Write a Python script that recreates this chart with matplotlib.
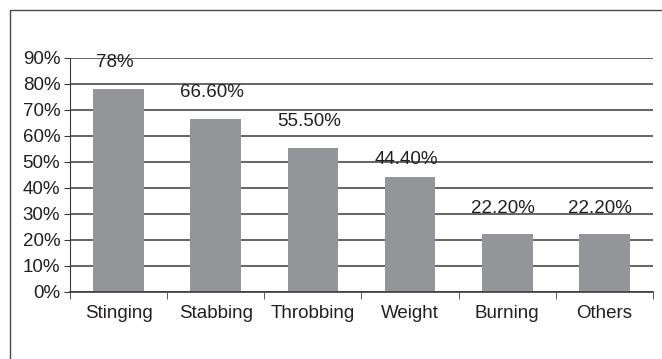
import matplotlib.pyplot as plt
from matplotlib.patches import Rectangle
from matplotlib.ticker import FixedLocator, PercentFormatter

# Data
categories = ['Stinging', 'Stabbing', 'Throbbing', 'Weight', 'Burning', 'Others']
values = [78, 66.6, 55.5, 44.4, 22.2, 22.2]
labels = ['78%', '66.60%', '55.50%', '44.40%', '22.20%', '22.20%']

plt.rcParams['font.family'] = ['Liberation Sans', 'DejaVu Sans']
text_color = '#231f20'
line_color = '#3a3a3a'
fsize = 13.5
# label lift above each bar (points) - the original placed them by hand
lifts = [13, 13, 13, 6, 12.5, 12.5]

W, H = 662, 359
fig = plt.figure(figsize=(W / 100, H / 100), dpi=100)

# outer frame (only left/top edges are visible in the crop)
fig.patches.append(Rectangle((10 / W, -0.1), 1.2, (H - 10) / H + 0.1,
                             transform=fig.transFigure, fill=False,
                             edgecolor='#4a4a4a', linewidth=1.0))

ax = fig.add_axes([70 / W, (H - 292) / H, (653 - 70) / W, (292 - 58) / H])

x = list(range(len(categories)))
ax.bar(x, values, width=0.52, color='#939598', zorder=2)

for xi, v, lab, dy in zip(x, values, labels, lifts):
    ax.annotate(lab, (xi, v), xytext=(-3, dy), textcoords='offset points',
                ha='center', va='bottom', fontsize=fsize, color=text_color, zorder=3)

ax.set_xlim(-0.5, len(categories) - 0.5)
ax.set_ylim(0, 90)
ax.set_yticks(range(0, 91, 10))
ax.yaxis.set_major_formatter(PercentFormatter(decimals=0))
ax.yaxis.grid(True, color=line_color, linewidth=1.1, zorder=1)
ax.set_axisbelow(True)

ax.set_xticks(x)
ax.set_xticklabels(categories)
ax.xaxis.set_minor_locator(FixedLocator([i - 0.5 for i in range(len(categories) + 1)]))
ax.tick_params(axis='x', which='major', length=0, pad=9, labelsize=fsize, labelcolor=text_color)
ax.tick_params(axis='x', which='minor', length=5, color=line_color, direction='out')
ax.tick_params(axis='y', length=4, color=line_color, labelsize=fsize, labelcolor=text_color, pad=3)

for s in ['top', 'right']:
    ax.spines[s].set_visible(False)
ax.spines['left'].set_color(line_color)
ax.spines['bottom'].set_color(line_color)
ax.spines['bottom'].set_linewidth(1.2)

plt.savefig('out.png', dpi=100)
